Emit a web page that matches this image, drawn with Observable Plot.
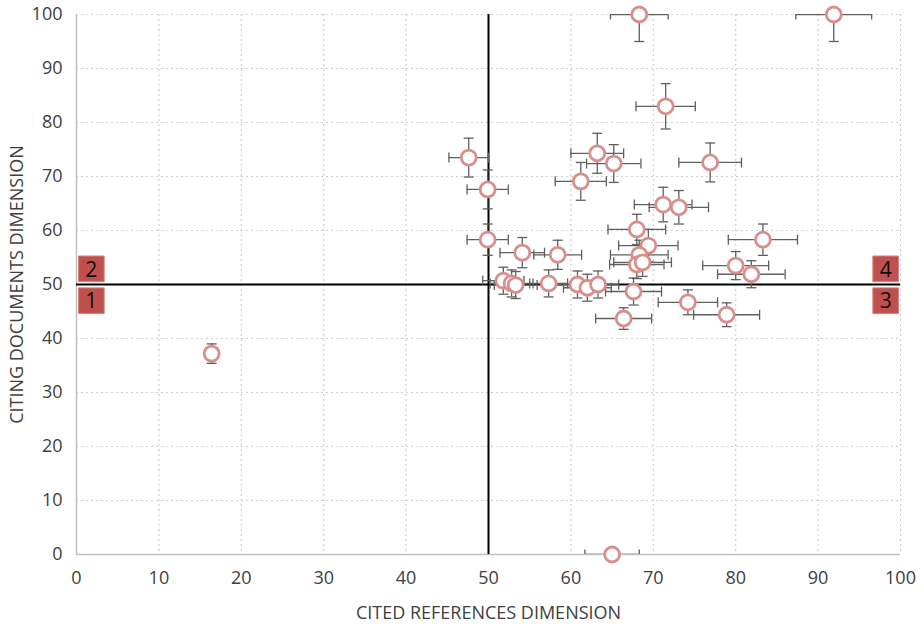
<!DOCTYPE html>
<html>
<head>
<meta charset="utf-8">
<script src="https://cdn.jsdelivr.net/npm/d3@7"></script>
<script src="https://cdn.jsdelivr.net/npm/@observablehq/plot@0.6"></script>
<style>
  html, body { margin: 0; padding: 0; background: #ffffff; }
</style>
</head>
<body>
<div id="chart"></div>
<script>
// Cited references dimension (x) and citing documents dimension (y), with error half-widths
const citedRefs  = [68.3, 91.9, 71.5, 47.6, 49.9, 63.2, 65.2, 61.2, 76.9, 71.2, 73.1, 68.0, 69.4, 68.3, 68.0, 68.7, 54.1, 58.4, 49.9, 83.3, 80.0, 81.9, 51.8, 52.8, 53.3, 57.3, 60.8, 62.0, 63.3, 67.6, 74.2, 78.9, 66.4, 16.4, 65.0];
const citingDocs = [100, 100, 83.0, 73.5, 67.6, 74.3, 72.4, 69.1, 72.6, 64.8, 64.3, 60.2, 57.2, 55.5, 53.7, 54.1, 55.9, 55.5, 58.3, 58.3, 53.5, 51.9, 50.7, 50.2, 49.9, 50.2, 50.0, 49.4, 50.0, 48.7, 46.7, 44.4, 43.7, 37.2, 0];
const citedErr   = [3.5, 4.6, 3.6, 2.4, 2.5, 3.2, 3.3, 3.1, 3.8, 3.5, 3.6, 3.5, 3.6, 3.5, 3.3, 3.5, 2.7, 2.9, 2.5, 4.2, 4.0, 4.1, 2.5, 2.6, 2.6, 2.3, 2.8, 2.9, 2.5, 3.4, 3.6, 4.0, 3.4, 0, 3.3];
const citingErr  = [5.0, 5.0, 4.2, 3.6, 3.6, 3.7, 3.5, 3.5, 3.6, 3.2, 3.1, 2.8, 3.0, 2.7, 2.6, 2.6, 2.8, 2.7, 2.9, 2.9, 2.6, 2.5, 2.5, 2.5, 2.5, 2.5, 2.5, 2.5, 2.5, 2.5, 2.3, 2.2, 2.0, 1.8, 0];

const xTicks = [0, 10, 20, 30, 40, 50, 60, 70, 80, 90, 100];
const yTicks = [0, 10, 20, 30, 40, 50, 60, 70, 80, 90, 100];

const quadrantLabels = ["1", "2", "3", "4"];
const quadrantX = [1.8, 1.8, 98.2, 98.2];
const quadrantY = [47.0, 52.9, 47.0, 52.9];

const xTitle = "CITED REFERENCES DIMENSION";
const yTitle = "CITING DOCUMENTS DIMENSION";

const points = citedRefs.map((x, i) => ({x, y: citingDocs[i], xe: citedErr[i], ye: citingErr[i]}));
const quadrants = quadrantLabels.map((label, i) => ({label, x: quadrantX[i], y: quadrantY[i]}));

const capH = {draw(ctx) { ctx.moveTo(-5, 0); ctx.lineTo(5, 0); }};
const capV = {draw(ctx) { ctx.moveTo(0, -5); ctx.lineTo(0, 5); }};

const errColor = "#5f5f5f";
const dotStroke = "#d98e8c";

const chart = Plot.plot({
  width: 924,
  height: 626,
  marginLeft: 76,
  marginRight: 24,
  marginTop: 14,
  marginBottom: 72,
  style: {fontFamily: "'Open Sans', 'Liberation Sans', sans-serif", fontSize: "18px", color: "#404040", background: "#ffffff"},
  x: {domain: [0, 100]},
  y: {domain: [0, 100]},
  marks: [
    Plot.ruleX(xTicks.slice(1), {stroke: "#cfcfcf", strokeWidth: 1.2, strokeDasharray: "2,3"}),
    Plot.ruleY(yTicks.slice(1), {stroke: "#cfcfcf", strokeWidth: 1.2, strokeDasharray: "2,3"}),
    Plot.ruleX([0], {stroke: "#bfbfbf", strokeWidth: 1.5}),
    Plot.ruleY([0], {stroke: "#bfbfbf", strokeWidth: 1.5}),
    Plot.ruleX([50], {stroke: "#000000", strokeWidth: 2}),
    Plot.ruleY([50], {stroke: "#000000", strokeWidth: 2}),
    Plot.ruleX(points, {x: "x", y1: d => d.y - d.ye, y2: d => d.y + d.ye, stroke: errColor, strokeWidth: 1.3, clip: true}),
    Plot.ruleY(points, {y: "y", x1: d => d.x - d.xe, x2: d => d.x + d.xe, stroke: errColor, strokeWidth: 1.3, clip: true}),
    Plot.dot(points, {x: "x", y: d => d.y + d.ye, symbol: capH, stroke: errColor, strokeWidth: 1.3, fill: "none", clip: true}),
    Plot.dot(points, {x: "x", y: d => d.y - d.ye, symbol: capH, stroke: errColor, strokeWidth: 1.3, fill: "none", clip: true}),
    Plot.dot(points, {x: d => d.x + d.xe, y: "y", symbol: capV, stroke: errColor, strokeWidth: 1.3, fill: "none", clip: true}),
    Plot.dot(points, {x: d => d.x - d.xe, y: "y", symbol: capV, stroke: errColor, strokeWidth: 1.3, fill: "none", clip: true}),
    Plot.dot(points, {x: "x", y: "y", r: 7.5, fill: "#ffffff", stroke: dotStroke, strokeWidth: 2.8}),
    Plot.dot(quadrants, {x: "x", y: "y", symbol: "square", r: 14.5, fill: "#c0504d", stroke: "#d88683", strokeWidth: 1}),
    Plot.text(quadrants, {x: "x", y: "y", text: "label", fill: "#111111", fontSize: 21, dy: 1}),
    Plot.axisX(xTicks, {tickSize: 0, tickPadding: 17, fontSize: 18, label: xTitle, labelAnchor: "center", labelArrow: "none", labelOffset: 64}),
    Plot.axisY(yTicks, {tickSize: 0, tickPadding: 14, fontSize: 18, label: yTitle, labelAnchor: "center", labelArrow: "none", labelOffset: 66})
  ]
});
document.getElementById("chart").appendChild(chart);
</script>
</body>
</html>
